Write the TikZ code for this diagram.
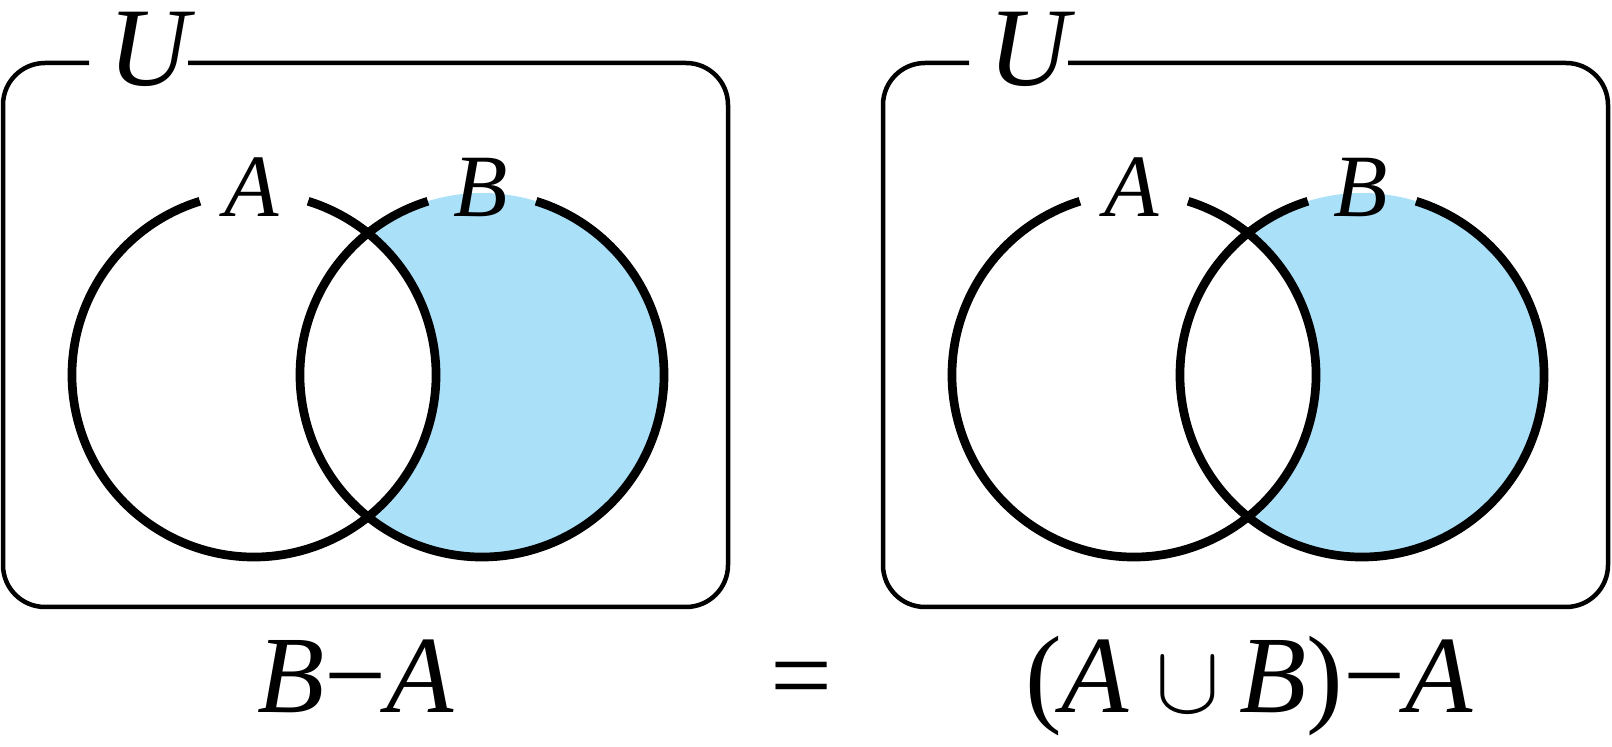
\documentclass[tikz,border=0pt]{standalone}
\usepackage{fontspec}
\usepackage{graphicx}
\setmainfont{Liberation Serif}
\definecolor{bfill}{RGB}{171,224,249}
\newcommand{\unionsym}{\hspace{0.24em}\scalebox{9.7}{\fontsize{10}{12}\selectfont$\cup$}\hspace{0.17em}}

\begin{document}
\begin{tikzpicture}[x=1pt, y=1pt,
   universe/.style={line width=4.5pt, rounded corners=42pt},
   setline/.style={line width=8.7pt},
   ulabel/.style={anchor=base, inner sep=0pt, font=\fontsize{112}{112}\selectfont\itshape},
   setlabel/.style={anchor=base, inner sep=0pt, font=\fontsize{89}{90}\selectfont\itshape},
   formula/.style={anchor=base, inner sep=0pt, font=\fontsize{110}{112}\selectfont}]

\useasboundingbox (0,0) rectangle (1612,747);

% left panel: B-A
\coordinate (A1) at (254,372);
\coordinate (B1) at (482,372);
\fill[bfill] (B1) circle[radius=182];
\fill[white] (A1) circle[radius=182];
\draw[universe] (188,684) -- (728,684) -- (728,140) -- (3,140) -- (3,684) -- (89,684);
\node[ulabel] (U1) at (149,661) {U};
\draw[setline] ([shift={(107.3:182)}]A1) arc[start angle=107.3, end angle=432.7, radius=182];
\draw[setline] ([shift={(107.3:182)}]B1) arc[start angle=107.3, end angle=432.7, radius=182];
\node[setlabel] (lA1) at (252,530) {A};
\node[setlabel] (lB1) at (481,530) {B};
\node[formula] (f1) at (356,34) {\textit{B}−\textit{A}};

\node[formula] (eq) at (802,34) {=};

% right panel: (A u B)-A
\coordinate (A2) at (1134,372);
\coordinate (B2) at (1362,372);
\fill[bfill] (B2) circle[radius=182];
\fill[white] (A2) circle[radius=182];
\draw[universe] (1068,684) -- (1608,684) -- (1608,140) -- (883,140) -- (883,684) -- (969,684);
\node[ulabel] (U2) at (1029,661) {U};
\draw[setline] ([shift={(107.3:182)}]A2) arc[start angle=107.3, end angle=432.7, radius=182];
\draw[setline] ([shift={(107.3:182)}]B2) arc[start angle=107.3, end angle=432.7, radius=182];
\node[setlabel] (lA2) at (1132,530) {A};
\node[setlabel] (lB2) at (1361,530) {B};
\node[formula] (f2) at (1249,34) {(\textit{A}\unionsym\textit{B})−\textit{A}};

\end{tikzpicture}
\end{document}
